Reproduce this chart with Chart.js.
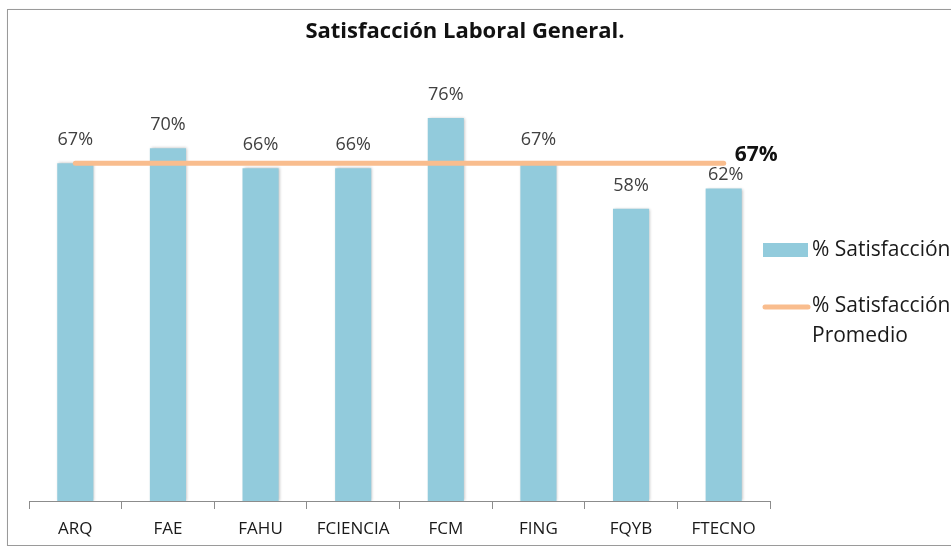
<!DOCTYPE html>
<html>
<head>
<meta charset="utf-8">
<script src="https://cdn.jsdelivr.net/npm/chart.js@4.4.1/dist/chart.umd.min.js"></script>
<style>
  html, body { margin: 0; padding: 0; background: #ffffff; }
  #wrap { position: relative; width: 951px; height: 546px; overflow: hidden; background: #fff; }
  #frame { position: absolute; left: 7px; top: 9px; width: 1000px; height: 535px;
           border: 1px solid #9a9a9a; box-shadow: 1px 1px 2px rgba(0,0,0,0.25); }
  canvas { position: absolute; left: 0; top: 0; }
</style>
</head>
<body>
<div id="wrap">
  <div id="frame"></div>
  <canvas id="c" width="951" height="560"></canvas>
</div>
<script>
// ---- data ----
const categories = ['ARQ', 'FAE', 'FAHU', 'FCIENCIA', 'FCM', 'FING', 'FQYB', 'FTECNO'];
const satisfaccion = [67, 70, 66, 66, 76, 67, 58, 62];
const promedio = [67, 67, 67, 67, 67, 67, 67, 67];
const promedioLabel = '67%';
const seriesNames = ['% Satisfacción', '% Satisfacción Promedio'];
const chartTitle = 'Satisfacción Laboral General.';

const BAR_COLOR = '#92CBDC';
const LINE_COLOR = '#F9BD8E';
const FONT = "'Open Sans', Lato, sans-serif";

const decor = {
  id: 'decor',
  beforeDatasetDraw(chart, args) {
    if (args.meta.type === 'bar') {
      const ctx = chart.ctx;
      ctx.save();
      ctx.shadowColor = 'rgba(0,0,0,0.28)';
      ctx.shadowBlur = 3;
      ctx.shadowOffsetX = 1;
      ctx.shadowOffsetY = 0;
    }
  },
  afterDatasetDraw(chart, args) {
    if (args.meta.type === 'bar') chart.ctx.restore();
  },
  afterDraw(chart) {
    const ctx = chart.ctx;
    ctx.save();
    // title
    ctx.font = "bold 22px " + FONT;
    ctx.fillStyle = '#111111';
    ctx.textAlign = 'center';
    ctx.textBaseline = 'middle';
    ctx.fillText(chartTitle, 465, 32);

    // value labels above bars
    const barMeta = chart.getDatasetMeta(0);
    ctx.font = "18px " + FONT;
    ctx.fillStyle = '#404040';
    barMeta.data.forEach((el, i) => {
      const last = i === barMeta.data.length - 1;
      const dy = last ? 14 : 23;
      ctx.fillText(satisfaccion[i] + '%', el.x + (last ? 2 : 0), el.y - dy);
    });
    // average label at end of line
    const lineMeta = chart.getDatasetMeta(1);
    const lastPt = lineMeta.data[lineMeta.data.length - 1];
    ctx.font = "bold 21px " + FONT;
    ctx.fillStyle = '#111111';
    ctx.textAlign = 'left';
    ctx.fillText(promedioLabel, lastPt.x + 11, lastPt.y - 8);

    // legend
    const lx = 763;
    ctx.fillStyle = BAR_COLOR;
    ctx.fillRect(lx, 243, 45, 14);
    ctx.strokeStyle = LINE_COLOR;
    ctx.lineWidth = 5;
    ctx.lineCap = 'round';
    ctx.beginPath();
    ctx.moveTo(lx + 2, 307);
    ctx.lineTo(lx + 45, 307);
    ctx.stroke();
    ctx.font = "21px " + FONT;
    ctx.fillStyle = '#1a1a1a';
    ctx.textAlign = 'left';
    ctx.fillText(seriesNames[0], 812, 250);
    const parts = seriesNames[1].split(' ');
    ctx.fillText(parts[0] + ' ' + parts[1], 812, 306);
    ctx.fillText(parts.slice(2).join(' '), 812, 336);
    ctx.restore();
  }
};

new Chart(document.getElementById('c'), {
  data: {
    labels: categories,
    datasets: [
      {
        type: 'bar',
        label: seriesNames[0],
        data: satisfaccion,
        backgroundColor: BAR_COLOR,
        borderWidth: 0,
        categoryPercentage: 1.0,
        barPercentage: 0.39,
        order: 1
      },
      {
        type: 'line',
        label: seriesNames[1],
        data: promedio,
        borderColor: LINE_COLOR,
        borderWidth: 5,
        borderCapStyle: 'round',
        pointRadius: 0,
        fill: false,
        order: 0
      }
    ]
  },
  options: {
    responsive: false,
    animation: false,
    events: [],
    layout: { padding: { left: 29, right: 181, top: 47.4, bottom: 10.6 } },
    plugins: {
      legend: { display: false },
      tooltip: { enabled: false },
      title: { display: false }
    },
    scales: {
      x: {
        offset: true,
        grid: { display: true, offset: true, drawOnChartArea: false, drawTicks: true, tickLength: 8, color: '#8c8c8c' },
        border: { display: true, color: '#8c8c8c', width: 1 },
        ticks: { color: '#1a1a1a', font: { family: FONT, size: 17 }, padding: 10, maxRotation: 0, autoSkip: false }
      },
      y: {
        display: false,
        min: 0,
        max: 90
      }
    }
  },
  plugins: [decor]
});
</script>
</body>
</html>
